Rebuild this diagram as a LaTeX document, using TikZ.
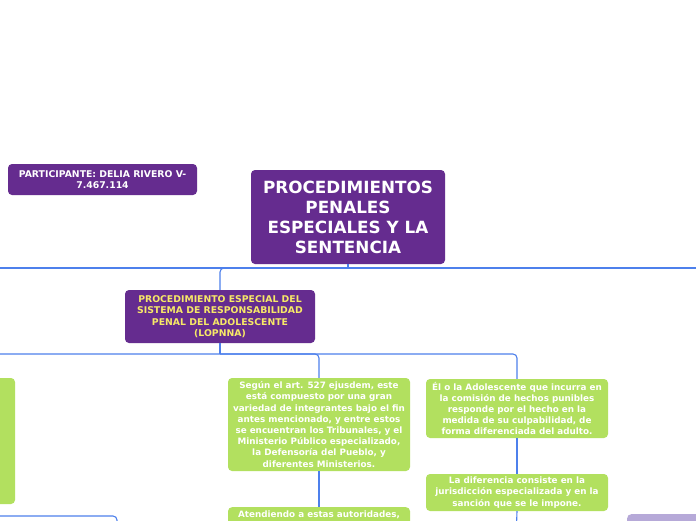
\documentclass[tikz,border=0pt]{standalone}
\usepackage{fontspec}
\setmainfont{DejaVu Sans}
\definecolor{mmpurple}{HTML}{652C8F}
\definecolor{mmgreen}{HTML}{B2E05F}
\definecolor{mmblue}{HTML}{4D80EC}
\definecolor{mmyellow}{HTML}{F7E967}
\definecolor{mmlav}{HTML}{B6A9D8}
\tikzset{
  box/.style={rectangle, rounded corners=4pt, inner sep=0pt, align=center, font=\bfseries},
  purplebox/.style={box, fill=mmpurple, text=white},
  greenbox/.style={box, fill=mmgreen, text=white},
  conn/.style={draw=mmblue, line width=1.1pt, rounded corners=4pt},
  smalltxt/.style={font=\fontsize{8.8}{11.2}\selectfont\bfseries},
  capstxt/.style={font=\fontsize{9.3}{11.4}\selectfont\bfseries},
}
\begin{document}
\begin{tikzpicture}[x=1pt,y=-1pt]
\useasboundingbox (0,0) rectangle (696,520);
\clip (0,0) rectangle (696,520);
\fill[white] (0,0) rectangle (696,520);

% nodes
\node[purplebox, minimum width=194pt, minimum height=94pt, font=\fontsize{16.8}{20}\selectfont\bfseries] (root) at (348,217)
  {PROCEDIMIENTOS\\PENALES\\ESPECIALES Y LA\\SENTENCIA};
\node[purplebox, capstxt, minimum width=189pt, minimum height=31pt] (part) at (102.5,179.5)
  {PARTICIPANTE: DELIA RIVERO V-\\7.467.114};
\node[purplebox, capstxt, text=mmyellow, minimum width=190pt, minimum height=53pt] (sub) at (220,316.5)
  {PROCEDIMIENTO ESPECIAL DEL\\SISTEMA DE RESPONSABILIDAD\\PENAL DEL ADOLESCENTE\\(LOPNNA)};
\node[greenbox, minimum width=80pt, minimum height=126pt] (left) at (-25,441) {};
\node[greenbox, smalltxt, minimum width=182pt, minimum height=93pt] (mid) at (319,424.5)
  {Según el art. 527 ejusdem, este\\está compuesto por una gran\\variedad de integrantes bajo el fin\\antes mencionado, y entre estos\\se encuentran los Tribunales, y el\\Ministerio Público especializado,\\la Defensoría del Pueblo, y\\diferentes Ministerios.};
\node[greenbox, minimum width=182pt, minimum height=56pt, anchor=north] (mid2) at (319,507) {};
\node[smalltxt, text=white, inner sep=0pt] (mid2t) at (319,514.5) {Atendiendo a estas autoridades,};
\node[greenbox, smalltxt, minimum width=182pt, minimum height=59pt] (r1) at (517,408.5)
  {Él o la Adolescente que incurra en\\la comisión de hechos punibles\\responde por el hecho en la\\medida de su culpabilidad, de\\forma diferenciada del adulto.};
\node[greenbox, smalltxt, minimum width=182pt, minimum height=37pt] (r2) at (517,492.5)
  {La diferencia consiste en la\\jurisdicción especializada y en la\\sanción que se le impone.};
\node[box, fill=mmlav, minimum width=130pt, minimum height=40pt, anchor=north west] (lav) at (627,514) {};

% off-picture ends
\coordinate (offL) at (0,268);
\coordinate (offR) at (696,268);
\coordinate (offL2) at (0,354);
\coordinate (offL3) at (0,516);
\coordinate (down3) at (117,540);
\coordinate (down4) at (516,540);
\coordinate (rootj) at (348,268);
\coordinate (subj) at (220,354);

% connectors
\draw[conn] (root.south) -- (rootj);
\draw[conn] (rootj) -| (sub.north);
\draw[conn] (offL) -- (offR);
\draw[conn] (sub.south) -- (subj);
\draw[conn] (offL2) -| (mid.north);
\draw[conn] (subj) -| (r1.north);
\draw[conn] (offL3) -| (down3);
\draw[conn] (mid.south) -- (mid2.north);
\draw[conn] (r1.south) -- (r2.north);
\draw[conn] (r2.south) -- (down4);
\end{tikzpicture}
\end{document}
